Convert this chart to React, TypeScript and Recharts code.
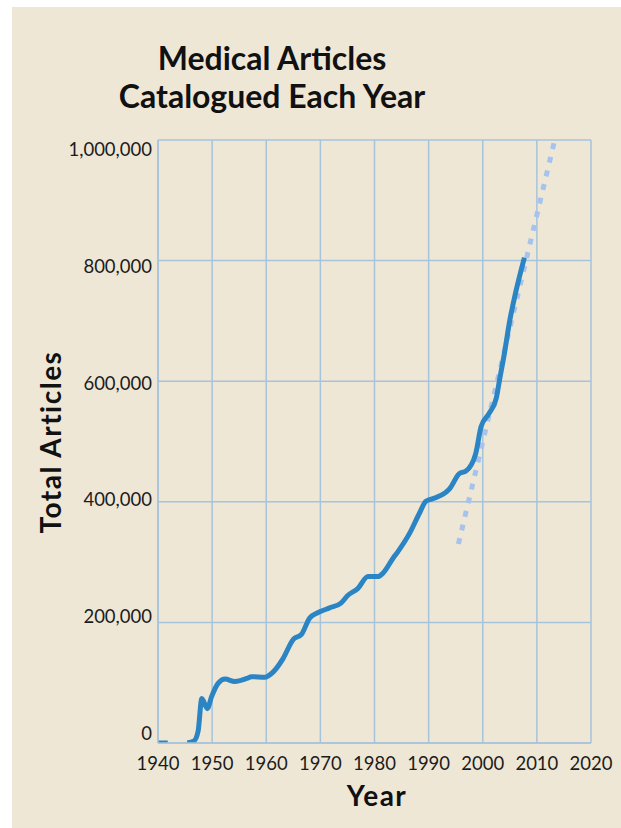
import React from 'react';
import {
  LineChart,
  Line,
  XAxis,
  YAxis,
  CartesianGrid,
} from 'recharts';

// years (fractional where the curve bends between grid lines)
const years = [
  1940, 1941, 1941.8, 1943, 1945.4, 1946.6, 1947.4, 1948.1, 1949.1, 1949.9,
  1951.1, 1952.4, 1954.2, 1956.4, 1957.3, 1959.7, 1961.3, 1963.1, 1965, 1966.5,
  1968, 1969.5, 1971.7, 1973.8, 1975.1, 1976.9, 1978.8, 1980.6, 1981.6, 1983.4,
  1984.3, 1986.5, 1988.3, 1989.5, 1991.4, 1993.9, 1995.7, 1996.9, 1998.7, 1999.7,
  2001.2, 2002.5, 2003.1, 2004, 2005, 2005.9, 2007.7,
];

// total articles; null leaves the gap in the early 1940s
const articles = [
  0, 0, 0, null, 0, 3000, 19000, 74000, 57000, 77000,
  99000, 106000, 102000, 107000, 110000, 109000, 118000, 140000, 172000, 180000,
  207000, 216000, 224000, 232000, 245000, 256000, 276000, 276000, 282000, 306000,
  317000, 348000, 381000, 401000, 407000, 422000, 447000, 451000, 480000, 525000,
  547000, 572000, 602000, 646000, 701000, 740000, 805000,
];

// dotted trend line
const trendYears = [1995.5, 2013.3];
const trendValues = [330000, 1000000];

const xTicks = [1940, 1950, 1960, 1970, 1980, 1990, 2000, 2010, 2020];
const yTicks = [0, 200000, 400000, 600000, 800000, 1000000];

const mainData = years.map((year, i) => ({ year, total: articles[i] }));
const trendData = trendYears.map((year, i) => ({ year, trend: trendValues[i] }));

const FONT = 'Lato, "Open Sans", sans-serif';
const GRID = '#a6c3dc';
const INK = '#1c1c1c';

// the printed y labels sit a little off their grid lines: lower at the top, higher at the bottom
const YTick = (props: any) => {
  const { x, y, payload } = props;
  const v = payload.value as number;
  const shift = 9 - 19 * (1 - v / 1000000);
  return (
    <text
      x={x + 4}
      y={y + shift}
      textAnchor="end"
      dominantBaseline="central"
      fill={INK}
      fontSize={18.5}
      fontFamily={FONT}
    >
      {v.toLocaleString('en-US')}
    </text>
  );
};

export default function App() {
  return (
    <div style={{ position: 'relative', width: 621, height: 828, background: '#fff', fontFamily: FONT }}>
      <style>{'body{margin:0}'}</style>
      <div
        style={{
          position: 'absolute',
          left: 12,
          top: 7,
          right: 0,
          bottom: 0,
          background: '#efe7d6',
        }}
      />
      <div
        style={{
          position: 'absolute',
          left: 72,
          width: 400,
          top: 39,
          textAlign: 'center',
          fontSize: 32,
          fontWeight: 700,
          lineHeight: '38px',
          color: '#111',
        }}
      >
        Medical Articles
        <br />
        Catalogued Each Year
      </div>
      <div
        style={{
          position: 'absolute',
          left: 50,
          top: 442,
          transform: 'translate(-50%, -50%) rotate(-90deg)',
          fontSize: 28,
          fontWeight: 700,
          letterSpacing: 1.5,
          color: '#111',
          whiteSpace: 'nowrap',
        }}
      >
        Total Articles
      </div>
      <div
        style={{
          position: 'absolute',
          left: 377,
          top: 795,
          transform: 'translate(-50%, -50%)',
          fontSize: 28,
          fontWeight: 700,
          letterSpacing: 1.5,
          color: '#111',
        }}
      >
        Year
      </div>
      <div style={{ position: 'absolute', left: 0, top: 0 }}>
        <LineChart
          width={621}
          height={828}
          margin={{ top: 140, right: 30, bottom: 45, left: 58 }}
        >
          <CartesianGrid stroke={GRID} strokeWidth={1.5} />
          <XAxis
            type="number"
            dataKey="year"
            domain={[1940, 2020]}
            ticks={xTicks}
            allowDataOverflow
            height={40}
            tickLine={false}
            axisLine={{ stroke: GRID, strokeWidth: 1.5 }}
            tick={{ fill: INK, fontSize: 18.5, fontFamily: FONT }}
            tickMargin={8}
          />
          <YAxis
            type="number"
            domain={[0, 1000000]}
            ticks={yTicks}
            allowDataOverflow
            width={100}
            tickLine={false}
            axisLine={{ stroke: GRID, strokeWidth: 1.5 }}
            tick={<YTick />}
            tickMargin={4}
          />
          <Line
            data={trendData}
            dataKey="trend"
            type="linear"
            stroke="#a5c3ec"
            strokeWidth={5}
            strokeDasharray="6 8"
            dot={false}
            activeDot={false}
            isAnimationActive={false}
          />
          <Line
            data={mainData}
            dataKey="total"
            type="monotone"
            stroke="#2b84c3"
            strokeWidth={5}
            strokeLinejoin="round"
            dot={false}
            activeDot={false}
            connectNulls={false}
            isAnimationActive={false}
          />
        </LineChart>
      </div>
    </div>
  );
}
